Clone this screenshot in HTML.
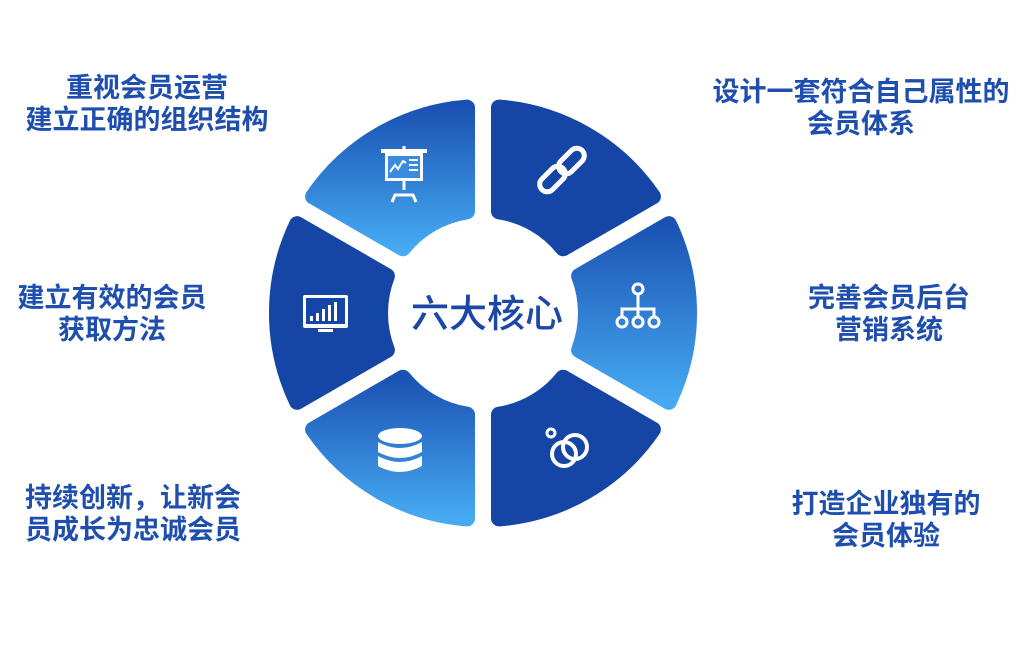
<!DOCTYPE html>
<html><head><meta charset="utf-8"><style>
html,body{margin:0;padding:0;background:#fff;}
body{width:1024px;height:661px;position:relative;overflow:hidden;font-family:"Liberation Sans","Noto Sans CJK SC",sans-serif;}
.t{position:absolute;color:#1f4fae;font-size:27px;font-weight:bold;line-height:32px;text-align:center;white-space:nowrap;transform:translateX(-50%);}
svg{position:absolute;left:0;top:0;}
</style></head><body>
<svg id="s" width="1024" height="661" viewBox="0 0 1024 661">
<defs>
<linearGradient id="lg" x1="0" y1="0" x2="0" y2="1"><stop offset="0" stop-color="#1a52b3"/><stop offset="1" stop-color="#46aaf2"/></linearGradient>
</defs>
<g id="segs"></g>
<text x="487" y="327" text-anchor="middle" font-size="38" font-weight="500" fill="#1c47a6" font-family="Liberation Sans, Noto Sans CJK SC, sans-serif">六大核心</text>
<!-- top-left: presentation board -->
<g fill="none" stroke="#fff" stroke-width="3">
<rect x="381" y="149" width="46" height="4" fill="#fff" stroke="none"/>
<rect x="385" y="153" width="38" height="28" fill="#fff" stroke="none"/>
<rect x="388" y="156" width="32" height="22" fill="#3b8ae0" stroke="none"/>
<polyline points="390,172 395,165 398,169 403,161 406,163" stroke-width="2"/>
<line x1="409" y1="160" x2="418" y2="160" stroke-width="2"/><line x1="409" y1="165" x2="418" y2="165" stroke-width="2"/><line x1="409" y1="170" x2="418" y2="170" stroke-width="2"/>
<line x1="404" y1="181" x2="404" y2="190"/>
<polyline points="392,202 395,195 413,195 416,202"/>
<line x1="404" y1="146" x2="404" y2="150"/>
</g>
<!-- top-right: link -->
<g fill="none" stroke="#fff" stroke-width="5">
<rect x="545" y="164" width="15" height="30" rx="7.5" transform="rotate(45 552.5 179)"/>
<rect x="564" y="146" width="15" height="30" rx="7.5" transform="rotate(45 571.5 161)"/>
</g>
<!-- right: hierarchy -->
<g fill="none" stroke="#fff" stroke-width="3">
<circle cx="638" cy="289" r="5"/>
<line x1="638" y1="294" x2="638" y2="318"/>
<path d="M622 317 v-8 h32 v8"/>
<circle cx="622" cy="322" r="5"/><circle cx="638" cy="322" r="5"/><circle cx="654" cy="322" r="5"/>
</g>
<!-- bottom-right: rings -->
<g fill="none" stroke="#fff" stroke-width="4">
<circle cx="551" cy="433" r="4" stroke-width="3"/>
<circle cx="564" cy="454" r="12"/>
<circle cx="575" cy="447" r="12"/>
</g>
<!-- bottom-left: database -->
<g fill="#fff">
<ellipse cx="400" cy="436" rx="22" ry="8"/>
<path d="M378 442 q22 12 44 0 v10 q-22 12 -44 0z"/>
<path d="M378 456 q22 12 44 0 v10 q-22 12 -44 0z"/>
</g>
<!-- left: monitor -->
<g>
<rect x="303" y="295" width="45" height="33" rx="2" fill="#fff"/>
<rect x="306" y="298" width="39" height="26" fill="#1546a6"/>
<rect x="310" y="316" width="3" height="5" fill="#fff"/><rect x="316" y="313" width="3" height="8" fill="#fff"/><rect x="322" y="309" width="3" height="12" fill="#fff"/><rect x="328" y="305" width="3" height="16" fill="#fff"/><rect x="334" y="302" width="3" height="19" fill="#fff"/>
<rect x="318" y="329" width="15" height="3" fill="#fff"/>
</g>
</svg>
<div class="t" style="left:147px;top:72px">重视会员运营<br>建立正确的组织结构</div>
<div class="t" style="left:861px;top:76px">设计一套符合自己属性的<br>会员体系</div>
<div class="t" style="left:112px;top:282px">建立有效的会员<br>获取方法</div>
<div class="t" style="left:889px;top:282px">完善会员后台<br>营销系统</div>
<div class="t" style="left:133px;top:482px">持续创新，让新会<br>员成长为忠诚会员</div>
<div class="t" style="left:886px;top:488px">打造企业独有的<br>会员体验</div>
<script>
(function(){
var cx=483,cy=313,R=206,r=103,d=16;
var segs=[[0,'lg'],[60,'#1546a6'],[120,'lg'],[180,'#1546a6'],[240,'lg'],[300,'#1546a6']];
var g=document.getElementById('segs');var h='';
function p(a,rad){var t=a*Math.PI/180;return (cx+rad*Math.cos(t)).toFixed(1)+' '+(cy-rad*Math.sin(t)).toFixed(1);}
segs.forEach(function(s){
var c=s[0],a1=c-30,a2=c+30;
var oo=Math.asin(d/R)*180/Math.PI,io=Math.asin(d/r)*180/Math.PI;
var path='M'+p(a1+oo,R)+' A'+R+' '+R+' 0 0 0 '+p(a2-oo,R)+' L'+p(a2-io,r)+' A'+r+' '+r+' 0 0 1 '+p(a1+io,r)+' Z';
var f=s[1]=='lg'?'url(#lg)':s[1];
h+='<path d="'+path+'" fill="'+f+'" stroke="'+f+'" stroke-width="16" stroke-linejoin="round"/>';
});
g.innerHTML=h;
})();
</script>
</body></html>
